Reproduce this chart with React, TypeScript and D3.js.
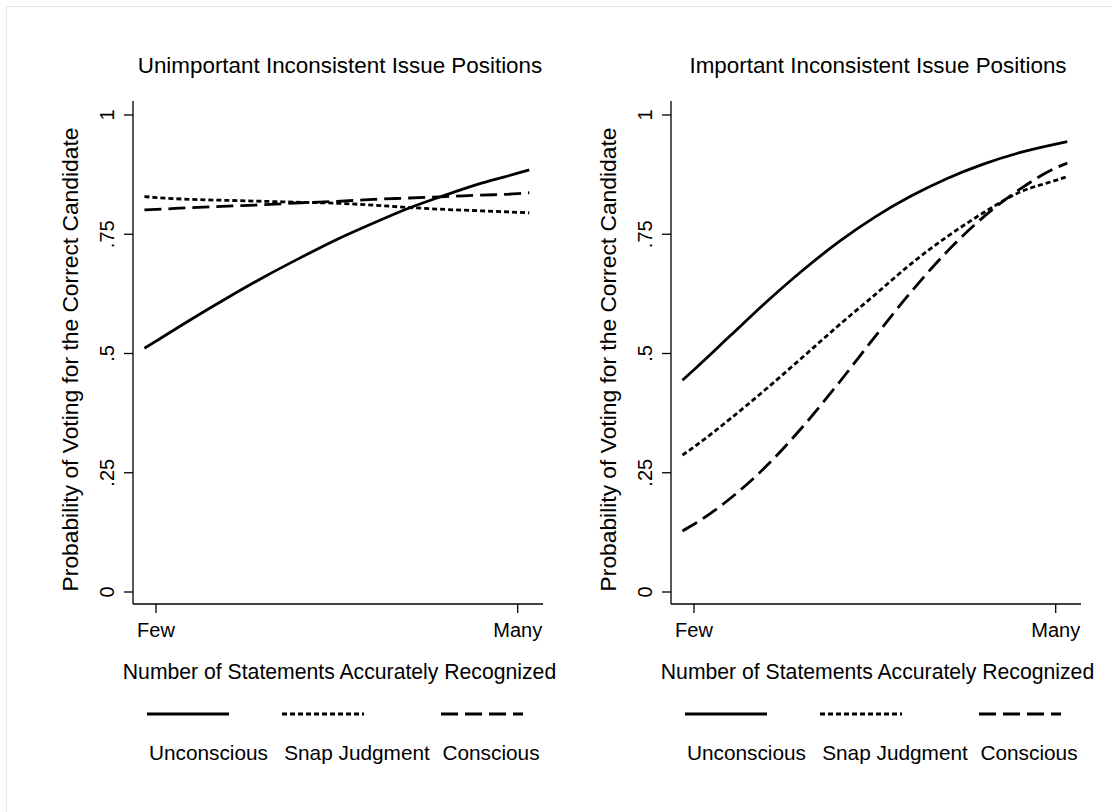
import React from "react";
import * as d3 from "d3";

// Predicted probabilities along the recognition scale (Few = 0, Many = 1)
const positions = [-0.032, 0, 0.1, 0.2, 0.3, 0.4, 0.5, 0.6, 0.7, 0.8, 0.9, 1.0, 1.032];

const leftUnconscious = [0.511, 0.526, 0.573, 0.618, 0.661, 0.701, 0.739, 0.773, 0.805, 0.832, 0.857, 0.878, 0.885];
const leftSnap = [0.829, 0.827, 0.823, 0.821, 0.819, 0.817, 0.815, 0.811, 0.806, 0.802, 0.799, 0.796, 0.795];
const leftConscious = [0.801, 0.802, 0.806, 0.809, 0.812, 0.816, 0.819, 0.823, 0.826, 0.829, 0.832, 0.835, 0.837];

const rightUnconscious = [0.444, 0.466, 0.537, 0.608, 0.674, 0.734, 0.786, 0.83, 0.867, 0.897, 0.921, 0.939, 0.944];
const rightSnap = [0.287, 0.304, 0.363, 0.426, 0.492, 0.559, 0.623, 0.688, 0.745, 0.795, 0.838, 0.863, 0.871];
const rightConscious = [0.128, 0.142, 0.196, 0.264, 0.346, 0.438, 0.535, 0.629, 0.714, 0.786, 0.844, 0.889, 0.899];

const xTickValues = [0, 1];
const xTickLabels = ["Few", "Many"];
const yTickValues = [0, 0.25, 0.5, 0.75, 1];
const yTickLabels = ["0", ".25", ".5", ".75", "1"];

const seriesNames = ["Unconscious", "Snap Judgment", "Conscious"];
const dashStyles = ["none", "5 3", "17 7"];

const panelTitles = ["Unimportant Inconsistent Issue Positions", "Important Inconsistent Issue Positions"];
const xTitle = "Number of Statements Accurately Recognized";
const yTitle = "Probability of Voting for the Correct Candidate";

const panelSeries = [
  [leftUnconscious, leftSnap, leftConscious],
  [rightUnconscious, rightSnap, rightConscious],
];

const FONT = "'Liberation Sans', Arial, Helvetica, sans-serif";

function Panel({ offset, title, series }: { offset: number; title: string; series: number[][] }) {
  const axisX = 133 + offset;
  const axisY = 604;
  const axisRight = 543 + offset;
  const axisTop = 101;
  const x = d3.scaleLinear().domain([0, 1]).range([156 + offset, 517.7 + offset]);
  const y = d3.scaleLinear().domain([0, 1]).range([592, 115]);
  const line = d3
    .line<number>()
    .x((_, i) => x(positions[i]))
    .y((d) => y(d))
    .curve(d3.curveMonotoneX);

  const legendKeys = [
    [147, 229],
    [282, 364],
    [441, 523],
  ];
  const legendLabelCenters = [208.5, 357, 491];
  const centerX = (axisX + axisRight) / 2;

  return (
    <g>
      <text x={centerX + 2} y={73} textAnchor="middle" fontSize={22.4} fontFamily={FONT}>
        {title}
      </text>
      {/* axes */}
      <line x1={axisX} x2={axisX} y1={axisTop} y2={axisY} stroke="#000" strokeWidth={1.3} />
      <line x1={axisX} x2={axisRight} y1={axisY} y2={axisY} stroke="#000" strokeWidth={1.3} />
      {yTickValues.map((v, i) => (
        <g key={"y" + i}>
          <line x1={axisX - 9} x2={axisX} y1={y(v)} y2={y(v)} stroke="#000" strokeWidth={1.3} />
          <text
            x={axisX - 19}
            y={y(v)}
            transform={`rotate(-90, ${axisX - 19}, ${y(v)})`}
            textAnchor="middle"
            fontSize={20}
            fontFamily={FONT}
          >
            {yTickLabels[i]}
          </text>
        </g>
      ))}
      {xTickValues.map((v, i) => (
        <g key={"x" + i}>
          <line x1={x(v)} x2={x(v)} y1={axisY} y2={axisY + 9} stroke="#000" strokeWidth={1.3} />
          <text x={x(v)} y={637} textAnchor="middle" fontSize={20} fontFamily={FONT}>
            {xTickLabels[i]}
          </text>
        </g>
      ))}
      <text x={339.5 + offset} y={679} textAnchor="middle" fontSize={21.2} fontFamily={FONT}>
        {xTitle}
      </text>
      <text
        x={axisX - 55}
        y={359.5}
        transform={`rotate(-90, ${axisX - 55}, 359.5)`}
        textAnchor="middle"
        fontSize={22.8}
        fontFamily={FONT}
      >
        {yTitle}
      </text>
      {/* curves */}
      {series.map((vals, i) => (
        <path
          key={"s" + i}
          d={line(vals) || ""}
          fill="none"
          stroke="#000"
          strokeWidth={2.8}
          strokeDasharray={dashStyles[i]}
        />
      ))}
      {/* legend */}
      {seriesNames.map((name, i) => (
        <g key={"l" + i}>
          <line
            x1={legendKeys[i][0] + offset}
            x2={legendKeys[i][1] + offset}
            y1={714}
            y2={714}
            stroke="#000"
            strokeWidth={2.8}
            strokeDasharray={dashStyles[i]}
          />
          <text x={legendLabelCenters[i] + offset} y={760} textAnchor="middle" fontSize={20.8} fontFamily={FONT}>
            {name}
          </text>
        </g>
      ))}
    </g>
  );
}

export default function App() {
  return (
    <svg
      width={1112}
      height={812}
      style={{ position: "absolute", left: 0, top: 0, background: "#fff" }}
    >
      <rect x={0} y={0} width={1112} height={812} fill="#fff" />
      <rect x={6.5} y={6.5} width={1130} height={830} fill="none" stroke="#e4eaea" strokeWidth={1} />
      {panelTitles.map((t, i) => (
        <Panel key={i} offset={i * 538} title={t} series={panelSeries[i]} />
      ))}
    </svg>
  );
}
